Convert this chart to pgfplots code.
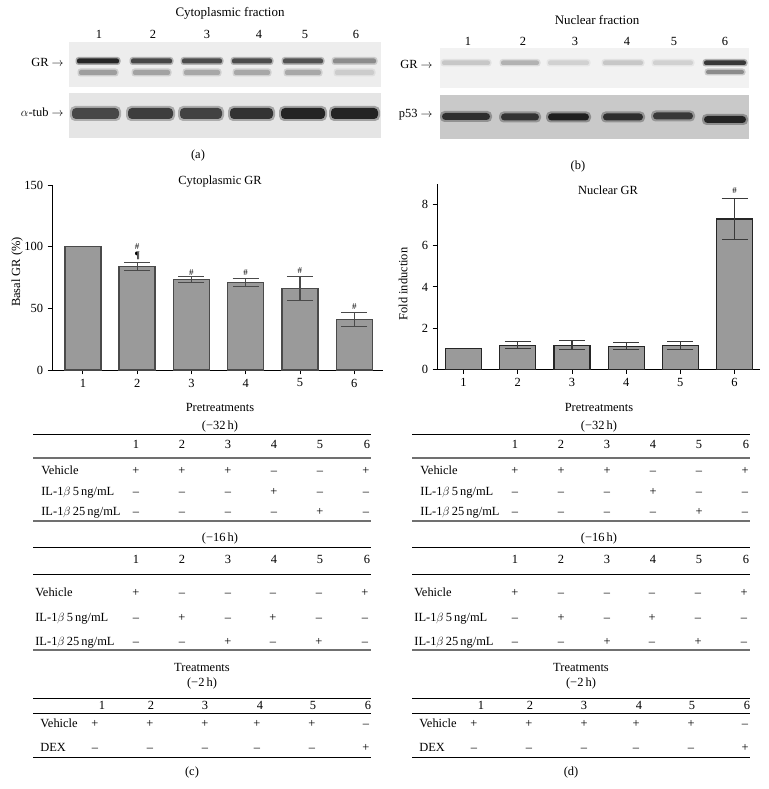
\documentclass[border=0pt]{standalone}
\usepackage{pgfplots}
\pgfplotsset{compat=1.18}
\usepackage{fontspec}
\setmainfont{Liberation Serif}
\definecolor{barfill}{HTML}{9A9A9A}
\definecolor{baredge}{HTML}{4A4A4A}
\definecolor{errc}{HTML}{3A3A3A}
\definecolor{rulegray}{HTML}{707070}
\newcommand{\fs}{\fontsize{12.5}{14}\selectfont}
\newcommand{\mi}{–}
\begin{document}
\fs
\begin{tikzpicture}[x=1bp,y=1bp]
\path[use as bounding box, fill=white] (0,0) rectangle (769,789);

% ---------------- flipped scope: y measured from top ----------------
\begin{scope}[shift={(0,789)}, yscale=-1]
% ===== panel (a) blots
\node[anchor=base] at (230,16.7) {\fontsize{13}{15}\selectfont Cytoplasmic fraction};
\foreach \n/\x in {1/99,2/153,3/207,4/259,5/305,6/356} \node[anchor=base] at (\x,39) {\n};
\fill[black!7] (69,42) rectangle (381,87);
\fill[black!10] (69,93) rectangle (381,138);
\foreach \a/\b/\c/\d in {77/119/85/38,131/172/72/36,182/222/70/34,232/272/70/34,283/323/68/34,333/376/45/20}{
  \fill[black!\c, opacity=0.35, rounded corners=3bp] (\a-1.5,57) rectangle (\b+1.5,65);
  \fill[black!\c, rounded corners=2bp] (\a,58.5) rectangle (\b,63.5);
  \fill[black!\d, opacity=0.4, rounded corners=3bp] (\a+0.5,68.5) rectangle (\b-0.5,76.5);
  \fill[black!\d, rounded corners=2bp] (\a+2,70) rectangle (\b-2,75);
}
\foreach \a/\b/\c in {72/119/72,128/173/76,180/222/74,230/273/80,281/325/86,331/378/86}{
  \fill[black!\c, opacity=0.35, rounded corners=5bp] (\a-2,106) rectangle (\b+2,121);
  \fill[black!\c, rounded corners=4bp] (\a,108) rectangle (\b,119);
}
\node[anchor=base east] at (68,66.7) {GR $\rightarrow$};
\node[anchor=base east] at (68,116.7) {$\alpha$-tub $\rightarrow$};
\node[anchor=base] at (198,159) {(a)};

% ===== panel (b) blots
\node[anchor=base] at (597,25) {\fontsize{13}{15}\selectfont Nuclear fraction};
\foreach \n/\x in {1/468,2/523,3/575,4/627,5/674,6/725} \node[anchor=base] at (\x,45.7) {\n};
\fill[black!5] (440,48) rectangle (749,88);
\fill[black!21] (440,95) rectangle (749,139);
\foreach \a/\b/\c in {442/490/22,501/539/30,548/589/18,603/643/22,653/693/18,704/746/78}{
  \fill[black!\c, opacity=0.35, rounded corners=3bp] (\a-1.5,59) rectangle (\b+1.5,66.5);
  \fill[black!\c, rounded corners=2bp] (\a,60.5) rectangle (\b,65);
}
\fill[black!45, opacity=0.4, rounded corners=3bp] (704.5,68.5) rectangle (745.5,75.5);
\fill[black!45, rounded corners=2bp] (706,70) rectangle (744,74);
\foreach \a/\b/\c/\y in {442/490/82/113,501/539/80/113.5,548/589/88/113.5,603/643/82/113.5,653/693/78/112.5,704/746/86/116}{
  \fill[black!\c, opacity=0.35, rounded corners=4.5bp] (\a-2,\y-2) rectangle (\b+2,\y+9);
  \fill[black!\c, rounded corners=3.5bp] (\a,\y) rectangle (\b,\y+7);
}
\node[anchor=base east] at (437,68.3) {GR $\rightarrow$};
\node[anchor=base east] at (437,117.7) {p53 $\rightarrow$};
\node[anchor=base] at (578,170) {(b)};

% ===== chart titles
\node[anchor=base] at (220,185) {Cytoplasmic GR};
\node[anchor=base] at (608,195) {Nuclear GR};

% ===== tables (c) and (d)
\foreach \sh/\lab in {0/(c),379/(d)}{
\begin{scope}[xshift=\sh bp]
  \node[anchor=base] at (220,411.7) {Pretreatments};
  \node[anchor=base] at (220,429.5) {(−32\,h)};
  \draw[black, line width=0.8bp] (33,434) -- (371,434);
  \foreach \n/\x in {1/136,2/182,3/228,4/274,5/320,6/367} \node[anchor=base] at (\x,449) {\n};
  \draw[rulegray, line width=1.6bp] (33,458) -- (371,458);
  \node[anchor=base west] at (37,475) {Vehicle};
  \node[anchor=base west] at (37,495.5) {IL-1$\beta$\,5\,ng/mL};
  \node[anchor=base west] at (37,516) {IL-1$\beta$\,25\,ng/mL};
  \foreach \s/\x in {+/136,+/182,+/228,\mi/274,\mi/320,+/366} \node[anchor=base] at (\x,475) {\s};
  \foreach \s/\x in {\mi/136,\mi/182,\mi/228,+/274,\mi/320,\mi/366} \node[anchor=base] at (\x,495.5) {\s};
  \foreach \s/\x in {\mi/136,\mi/182,\mi/228,\mi/274,+/320,\mi/366} \node[anchor=base] at (\x,516) {\s};
  \draw[rulegray, line width=2bp] (33,521) -- (371,521);
  \node[anchor=base] at (220,542) {(−16\,h)};
  \draw[black, line width=0.8bp] (33,547) -- (371,547);
  \foreach \n/\x in {1/136,2/182,3/228,4/274,5/320,6/367} \node[anchor=base] at (\x,564) {\n};
  \draw[black, line width=0.8bp] (33,574) -- (371,574);
  \node[anchor=base west] at (31,597) {Vehicle};
  \node[anchor=base west] at (31,621.7) {IL-1$\beta$\,5\,ng/mL};
  \node[anchor=base west] at (31,646) {IL-1$\beta$\,25\,ng/mL};
  \foreach \s/\x in {+/136,\mi/182,\mi/228,\mi/273,\mi/319,+/365} \node[anchor=base] at (\x,597) {\s};
  \foreach \s/\x in {\mi/136,+/182,\mi/228,+/273,\mi/319,\mi/365} \node[anchor=base] at (\x,621.7) {\s};
  \foreach \s/\x in {\mi/136,\mi/182,+/228,\mi/273,+/319,\mi/365} \node[anchor=base] at (\x,646) {\s};
  \draw[rulegray, line width=2bp] (33,650) -- (371,650);
  \node[anchor=base] at (202,671.7) {Treatments};
  \node[anchor=base] at (202,687) {(−2\,h)};
  \draw[black, line width=0.8bp] (33,698) -- (371,698);
  \foreach \n/\x in {1/102,2/151,3/205,4/260,5/313,6/368} \node[anchor=base] at (\x,709.3) {\n};
  \draw[black, line width=0.8bp] (33,713) -- (371,713);
  \node[anchor=base west] at (36,727.3) {Vehicle};
  \node[anchor=base west] at (36,751.7) {DEX};
  \foreach \s/\x in {+/95,+/150,+/205,+/257,+/312,\mi/366} \node[anchor=base] at (\x,727.3) {\s};
  \foreach \s/\x in {\mi/95,\mi/150,\mi/205,\mi/257,\mi/312,+/366} \node[anchor=base] at (\x,751.7) {\s};
  \draw[black, line width=0.8bp] (33,757) -- (371,757);
  \node[anchor=base] at (192,776) {\lab};
\end{scope}
}
\end{scope}

% ---------------- axes ----------------
\pgfplotsset{
  panel/.style={
    scale only axis, anchor=south west,
    axis x line=bottom, axis y line=left,
    axis line style={-, black, line width=0.9bp},
    tick align=outside, major tick length=4.5bp,
    tick style={black, line width=0.9bp},
    xtick={1,...,6},
    /pgf/number format/assume math mode=true,
    tick label style={font=\fontsize{12.5}{14}\selectfont},
    label style={font=\fontsize{12.5}{14}\selectfont},
    clip=false,
  }
}
% (c)
\begin{axis}[panel, at={(52bp,419bp)}, width=331bp, height=185bp,
  xmin=0.43, xmax=6.53, ymin=0, ymax=150, ytick={0,50,100,150},
  ylabel={Basal GR (\%)},
  ylabel style={at={(axis description cs:-0.105,0.53)}, anchor=center}]
\addplot[ybar, bar width=36bp, fill=barfill, draw=baredge, line width=1.4bp]
  coordinates {(1,100) (2,84) (3,73.5) (4,71) (5,66) (6,41)};
\addplot[draw=none, mark=none, forget plot,
  error bars/.cd, y dir=both, y explicit,
  error bar style={draw=baredge, line width=1.1bp, solid},
  error mark options={rotate=90, mark size=13bp, draw=baredge, line width=1.1bp}]
  coordinates {(2,84) +- (0,3.5) (3,73.5) +- (0,2.5) (4,71) +- (0,3) (5,66) +- (0,9.8) (6,41) +- (0,5.4)};
\node[anchor=base] at (axis cs:2,97.5) {\fontsize{9}{10}\selectfont\#};
\node[anchor=base] at (axis cs:2,90) {\fontsize{10}{11}\selectfont\bfseries ¶};
\node[anchor=base] at (axis cs:3,77) {\fontsize{9}{10}\selectfont\#};
\node[anchor=base] at (axis cs:4,76.5) {\fontsize{9}{10}\selectfont\#};
\node[anchor=base] at (axis cs:5,78) {\fontsize{9}{10}\selectfont\#};
\node[anchor=base] at (axis cs:6,49) {\fontsize{9}{10}\selectfont\#};
\end{axis}
% (d)
\begin{axis}[panel, at={(437bp,419.7bp)}, width=323bp, height=185.3bp,
  xmin=0.51, xmax=6.47, ymin=0, ymax=9, ytick={0,2,4,6,8},
  ylabel={Fold induction},
  ylabel style={at={(axis description cs:-0.105,0.46)}, anchor=center}]
\addplot[ybar, bar width=36bp, fill=barfill, draw=black!85, line width=1.1bp]
  coordinates {(1,1.0) (2,1.17) (3,1.17) (4,1.12) (5,1.16) (6,7.3)};
\addplot[draw=none, mark=none, forget plot,
  error bars/.cd, y dir=both, y explicit,
  error bar style={draw=errc, line width=1.1bp, solid},
  error mark options={rotate=90, mark size=13bp, draw=errc, line width=1.1bp}]
  coordinates {(2,1.17) +- (0,0.18) (3,1.17) +- (0,0.22) (4,1.12) +- (0,0.17) (5,1.16) +- (0,0.21) (6,7.3) +- (0,1.0)};
\node[anchor=base] at (axis cs:6,8.55) {\fontsize{9}{10}\selectfont\#};
\end{axis}
\end{tikzpicture}
\end{document}
